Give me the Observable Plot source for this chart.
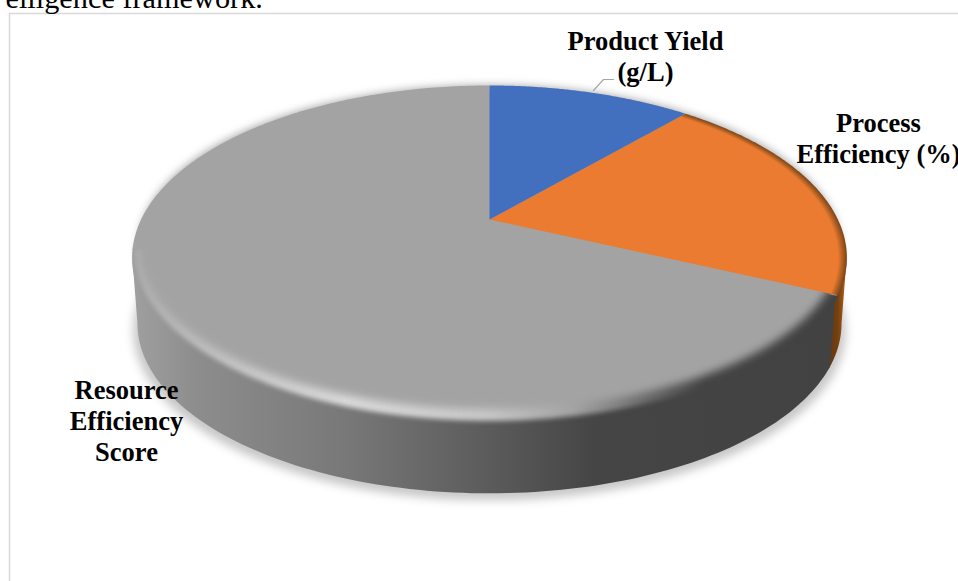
<!DOCTYPE html>
<html>
<head>
<meta charset="utf-8">
<script src="https://cdn.jsdelivr.net/npm/d3@7"></script>
<script src="https://cdn.jsdelivr.net/npm/@observablehq/plot@0.6"></script>
<style>
html,body{margin:0;padding:0;background:#fff;overflow:hidden}
svg{display:block}
</style>
</head>
<body>
<div id="chart"></div>
<script>
// Data
const categories = ["Product Yield (g/L)", "Process Efficiency (%)", "Resource Efficiency Score"];
const values = [11.4, 20.5, 68.1];
const labels = ["Product Yield\n(g/L)", "Process\nEfficiency (%)", "Resource\nEfficiency\nScore"];
const colors = ["#4270BF", "#EA7B30", "#A3A3A3"];

// Layout of the tilted disc (in page pixels)
const W = 958, H = 581;
const cx = 489, apexY = 219, R = 348.4, K = 163.9, persp = 0.223;
const topY = 85, midY = 257.5, ry = 172.5, rx = 357.5;
const depthY = 323, depthScale = 0.985;
const labelX = [645, 878, 126], labelY = [55.5, 137.5, 419.5];

const rad = d => d * Math.PI / 180;
function rim(deg) {
  const u = Math.sin(rad(deg)), v = Math.cos(rad(deg)), w = 1 + persp * v;
  return {x: cx + R * u / w, y: apexY - K * v / w};
}
const bottomRim = deg => {
  const p = rim(deg);
  return {x: cx + (p.x - cx) * depthScale, y: depthY + (p.y - midY) * depthScale};
};
const inset = (p, sx, sy) => ({x: cx + (p.x - cx) * sx, y: topY + (p.y - topY) * sy});
const arc = (a, b, f = rim) => d3.range(0, 121).map(i => f(a + (b - a) * i / 120));

// slice angles from the values
const total = d3.sum(values);
let acc = 0;
const slices = values.map((v, i) => {
  const s = {i, a0: acc / total * 360, a1: (acc + v) / total * 360};
  acc += v;
  return s;
});
const sector = s => [{x: cx, y: apexY}, ...arc(s.a0, s.a1), {x: cx, y: apexY}];
// the wall's upper edge tucks a little under the rim, so no seam shows
const wall = (a, b) => [...arc(a, b).map(p => ({x: p.x, y: p.y - 3})), ...arc(b, a, bottomRim)];
const full = arc(0, 360);

const rightDeg = 90 + Math.asin(persp) * 180 / Math.PI, leftDeg = 360 - rightDeg;
const orangeEnd = slices[1].a1;

const defs = () => {
  const d = document.createElementNS("http://www.w3.org/2000/svg", "defs");
  d.innerHTML = `
  <linearGradient id="wallGray" gradientUnits="userSpaceOnUse" x1="131" x2="846" y1="0" y2="0">
    <stop offset="0" stop-color="#a0a0a0"/><stop offset="0.09" stop-color="#8d8d8d"/>
    <stop offset="0.3" stop-color="#787878"/><stop offset="0.48" stop-color="#5e5e5e"/>
    <stop offset="0.65" stop-color="#454545"/><stop offset="1" stop-color="#424242"/>
  </linearGradient>
  <linearGradient id="wallOrange" gradientUnits="userSpaceOnUse" x1="825" x2="847" y1="0" y2="0">
    <stop offset="0" stop-color="#5f3410"/><stop offset="0.55" stop-color="#74400f"/>
    <stop offset="1" stop-color="#b5651f"/>
  </linearGradient>
  <linearGradient id="rimGray" gradientUnits="userSpaceOnUse" x1="131" x2="846" y1="0" y2="0">
    <stop offset="0" stop-color="#b0b0b0"/><stop offset="0.3" stop-color="#dcdcdc"/>
    <stop offset="0.5" stop-color="#c8c8c8"/><stop offset="0.62" stop-color="#a3a3a3"/>
    <stop offset="0.72" stop-color="#6a6a6a"/><stop offset="0.8" stop-color="#444444"/>
    <stop offset="1" stop-color="#444444"/>
  </linearGradient>
  <radialGradient id="faceOrange" gradientUnits="userSpaceOnUse" cx="0" cy="0" r="1"
    gradientTransform="translate(${cx} ${midY}) scale(${rx} ${ry})">
    <stop offset="0.975" stop-color="${colors[1]}"/><stop offset="1" stop-color="#7a4416"/>
  </radialGradient>`;
  return d;
};

const poly = (pts, fill, extra = {}) =>
  Plot.line(pts, {x: "x", y: "y", fill, stroke: "none", curve: "linear", ...extra});

const highlight = arc(orangeEnd - 6, leftDeg + 4).map(p => inset(p, 0.99, 0.972));
const innerFace = full.map(p => inset(p, 0.982, 0.938));

const chart = Plot.plot({
  width: W, height: H,
  margin: 0,
  x: {domain: [0, W], range: [0, W], axis: null},
  y: {domain: [0, H], range: [0, H], axis: null},
  style: {background: "#fff", fontFamily: "'Liberation Serif', serif"},
  marks: [
    defs,
    // chart frame
    Plot.line([{x: 9, y: H}, {x: 9, y: 13}, {x: W, y: 13}], {x: "x", y: "y", stroke: "#d9d9d9", strokeWidth: 1.5}),
    // clipped line of the surrounding document
    Plot.text(["elligence framework."], {
      x: [5], y: [-2.2], text: d => d, textAnchor: "start", fontSize: 30.3, fill: "#000", lineAnchor: "middle"
    }),
    // soft shadow under the disc
    poly(arc(0, 360, bottomRim).map(p => ({x: cx + (p.x - cx) * 1.012, y: p.y + 7})), "#000", {fillOpacity: 0.22, imageFilter: "blur(5px)"}),
    // side walls
    poly(wall(rightDeg, orangeEnd + 3), "url(#wallOrange)"),
    poly(wall(orangeEnd + 2, leftDeg), "url(#wallGray)"),
    // bevelled rim and top face
    poly(arc(orangeEnd, leftDeg + 3), "url(#wallGray)"),
    poly(highlight, "url(#rimGray)", {imageFilter: "blur(2.5px)"}),
    poly(innerFace, colors[2], {imageFilter: "blur(4px)"}),
    // the sharp upper part of the grey slice
    poly(arc(leftDeg + 2.5, 360).concat([{x: cx, y: apexY}]), colors[2]),
    // front slices
    poly(sector(slices[1]), "url(#faceOrange)"),
    poly(sector(slices[0]), colors[0]),
    // leader of the first label
    Plot.line([{x: 593, y: 90}, {x: 603, y: 79}, {x: 613, y: 79}], {x: "x", y: "y", stroke: "#a6a6a6", strokeWidth: 1.2}),
    // labels
    Plot.text(labels, {
      x: labelX, y: labelY, text: d => d,
      textAnchor: "middle", lineAnchor: "middle", lineHeight: 1.17,
      fontSize: 26.5, fontWeight: "bold", fill: "#000"
    })
  ]
});
document.getElementById("chart").append(chart);
</script>
</body>
</html>
